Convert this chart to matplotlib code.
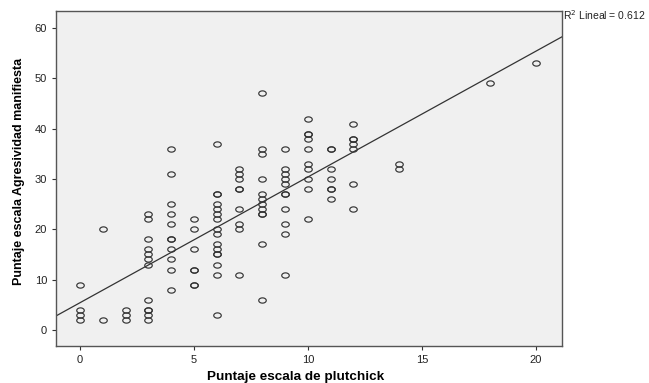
"""Scatter: Agresividad manifiesta vs plutchick, with linear fit."""
import matplotlib
matplotlib.use("Agg")
import numpy as np
import matplotlib.pyplot as plt
from matplotlib.path import Path

plt.rcParams["font.family"] = ["Liberation Sans", "DejaVu Sans"]

# points, grouped by x value
x_vals = [0, 1, 2, 3, 4, 5, 6, 7, 8, 9, 10, 11, 12, 14, 18, 20]
y_groups = [
    [9, 4, 3, 2],
    [20, 2],
    [4, 3, 2],
    [23, 22, 18, 16, 15, 14, 13, 6, 4, 4, 3, 2],
    [36, 31, 25, 23, 21, 18, 18, 16, 14, 12, 8],
    [22, 20, 16, 12, 12, 9, 9],
    [37, 27, 27, 25, 24, 23, 22, 20, 19, 17, 16, 15, 15, 13, 11, 3],
    [32, 31, 30, 28, 28, 24, 21, 20, 11],
    [47, 36, 35, 30, 27, 26, 25, 24, 23, 23, 17, 6],
    [36, 32, 31, 30, 29, 27, 27, 24, 21, 19, 11],
    [42, 39, 39, 38, 36, 33, 32, 30, 28, 22],
    [36, 36, 32, 30, 28, 28, 26],
    [41, 38, 38, 37, 36, 29, 24],
    [33, 32],
    [49],
    [53],
]
fit_intercept = 5.4
fit_slope = 2.5
r2_label = "R$^2$ Lineal = 0.612"
x_ticks = [0, 5, 10, 15, 20]
y_ticks = [0, 10, 20, 30, 40, 50, 60]

xs = np.concatenate([[x] * len(g) for x, g in zip(x_vals, y_groups)])
ys = np.concatenate(y_groups)

# slightly flattened circle, as in the original export
t = np.linspace(0, 2 * np.pi, 40)
ellipse = Path(np.c_[np.cos(t), 0.7 * np.sin(t)], closed=True)

fig = plt.figure(figsize=(6.49, 3.83), dpi=100)
ax = fig.add_axes([0.0863, 0.0966, 0.7797, 0.8747])
ax.set_facecolor("#f0f0f0")

ax.plot(xs, ys, linestyle="none", marker=ellipse, markersize=5.4,
        markerfacecolor="none", markeredgecolor="#333333", markeredgewidth=0.85)

xlim = (-1.05, 21.15)
line_x = np.array(xlim)
ax.plot(line_x, fit_intercept + fit_slope * line_x, color="#333333", lw=0.9)

ax.set_xlim(*xlim)
ax.set_ylim(-3.2, 63.4)
ax.set_xticks(x_ticks)
ax.set_yticks(y_ticks)
ax.tick_params(direction="out", length=3, width=0.8, labelsize=8,
               colors="#333333", labelcolor="#222222")
for s in ax.spines.values():
    s.set_color("#555555")
    s.set_linewidth(1.0)

ax.set_xlabel("Puntaje escala de plutchick", fontsize=9.7, fontweight="bold")
ax.set_ylabel("Puntaje escala Agresividad manifiesta", fontsize=9,
              fontweight="bold")
ax.xaxis.set_label_coords(0.474, -0.075)
ax.yaxis.set_label_coords(-0.062, 0.52)
fig.text(0.868, 0.947, r2_label, fontsize=7.5, color="#222222")

fig.savefig("out.png", dpi=100)
